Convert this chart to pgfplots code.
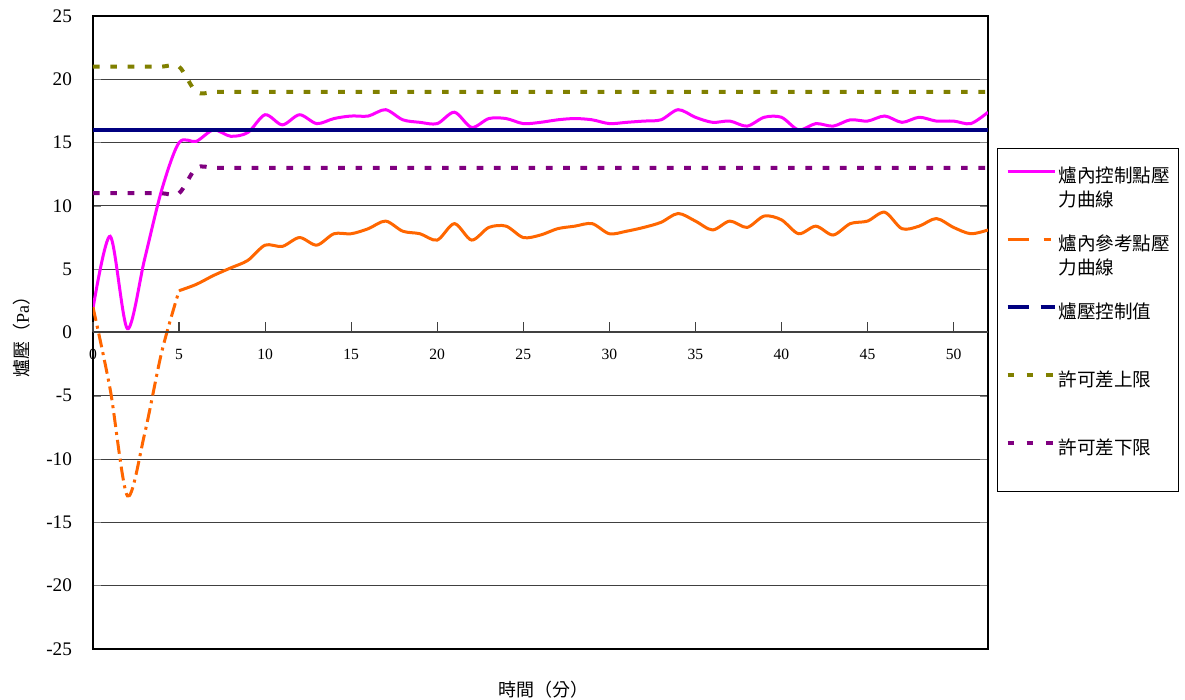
\documentclass[border=0pt]{standalone}
\usepackage{fontspec}
\setmainfont{Liberation Serif}
\newfontfamily\cjk{Noto Sans CJK TC}
\usepackage{pgfplots}
\usepackage{pgfplotstable}
\pgfplotsset{compat=1.18}
\definecolor{cPink}{HTML}{FF00FF}
\definecolor{cOrange}{HTML}{FF6600}
\definecolor{cNavy}{HTML}{000080}
\definecolor{cOlive}{HTML}{808000}
\definecolor{cPurple}{HTML}{800080}

\pgfplotstableread{
x y
0 1.9
1 7.6
2 0.3
3 5.8
4 11.3
5 15.0
6 15.1
7 16.0
8 15.5
9 15.8
10 17.2
11 16.4
12 17.2
13 16.5
14 16.9
15 17.1
16 17.1
17 17.6
18 16.8
19 16.6
20 16.5
21 17.4
22 16.2
23 16.9
24 16.9
25 16.5
26 16.6
27 16.8
28 16.9
29 16.8
30 16.5
31 16.6
32 16.7
33 16.8
34 17.6
35 17.0
36 16.6
37 16.7
38 16.3
39 17.0
40 17.0
41 16.0
42 16.5
43 16.3
44 16.8
45 16.7
46 17.1
47 16.6
48 17.0
49 16.7
50 16.7
51 16.5
52 17.4
}\pinkdata

\pgfplotstableread{
x y
0 2.0
1 -4.5
2 -12.9
3 -8.0
4 -1.5
5 3.3
}\orangeA

\pgfplotstableread{
x y
5 3.3
6 3.8
7 4.5
8 5.1
9 5.7
10 6.9
11 6.8
12 7.5
13 6.9
14 7.8
15 7.8
16 8.2
17 8.8
18 8.0
19 7.8
20 7.3
21 8.6
22 7.3
23 8.3
24 8.4
25 7.5
26 7.7
27 8.2
28 8.4
29 8.6
30 7.8
31 8.0
32 8.3
33 8.7
34 9.4
35 8.8
36 8.1
37 8.8
38 8.3
39 9.2
40 8.9
41 7.8
42 8.4
43 7.7
44 8.6
45 8.8
46 9.5
47 8.2
48 8.4
49 9.0
50 8.3
51 7.8
52 8.1
}\orangeB

\pgfplotstableread{
x up lo
0 21 11
1 21 11
2 21 11
3 21 11
4 21 11
5 21 11
6 19 13
7 19 13
8 19 13
9 19 13
10 19 13
11 19 13
12 19 13
13 19 13
14 19 13
15 19 13
16 19 13
17 19 13
18 19 13
19 19 13
20 19 13
21 19 13
22 19 13
23 19 13
24 19 13
25 19 13
26 19 13
27 19 13
28 19 13
29 19 13
30 19 13
31 19 13
32 19 13
33 19 13
34 19 13
35 19 13
36 19 13
37 19 13
38 19 13
39 19 13
40 19 13
41 19 13
42 19 13
43 19 13
44 19 13
45 19 13
46 19 13
47 19 13
48 19 13
49 19 13
50 19 13
51 19 13
52 19 13
}\limitdata

\begin{document}
\begin{tikzpicture}
\useasboundingbox (-46.5pt,-25.5pt) rectangle (546pt,324.5pt);
\begin{axis}[
  at={(0,0)}, anchor=south west,
  scale only axis, width=447.5pt, height=316.5pt,
  xmin=0, xmax=52, ymin=-25, ymax=25,
  xtick=\empty,
  ytick={-25,-20,...,25},
  ymajorgrids,
  grid style={black!75, line width=0.5pt},
  axis line style={line width=0.8pt},
  tick align=inside, major tick length=4pt,
  /pgf/number format/assume math mode=true,
  yticklabel style={font=\fontsize{9.6}{11}\selectfont, xshift=-7pt},
  ylabel={{\cjk 爐壓（}Pa{\cjk ）}},
  ylabel style={at={(axis description cs:-0.0793,0.5)}, anchor=center, font=\fontsize{9}{11}\selectfont},
  xlabel={\cjk 時間（分）},
  xlabel style={at={(axis description cs:0.503,-0.0648)}, anchor=center, font=\fontsize{9}{11}\selectfont},
  legend cell align=left,
  legend image code/.code={\draw[#1] (0pt,6.5pt) -- (23.5pt,6.5pt);},
  legend style={at={(axis description cs:1.01,0.7915)}, anchor=north west,
    draw=black, line width=0.6pt, inner xsep=4pt, inner ysep=0.75pt,
    column sep=1pt, row sep=0pt,
    nodes={inner sep=0pt, text height=16pt, text depth=18pt},
    font=\cjk\fontsize{9.3}{12}\selectfont},
]
\addplot[cPink, line width=1.5pt, smooth, forget plot] table {\pinkdata};
\addplot[cOrange, line width=1.5pt, smooth, dash pattern=on 7pt off 2.5pt on 1.5pt off 2.5pt, forget plot] table {\orangeA};
\addplot[cOrange, line width=1.5pt, smooth, forget plot] table {\orangeB};
\addplot[cNavy, line width=2pt, forget plot] coordinates {(0,16) (52,16)};
\addplot[cOlive, line width=2pt, smooth, dash pattern=on 3.35pt off 5.3pt, forget plot] table[y=up] {\limitdata};
\addplot[cPurple, line width=2pt, smooth, dash pattern=on 3.35pt off 5.3pt, forget plot] table[y=lo] {\limitdata};

\addlegendimage{cPink, line width=1.5pt}
\addlegendentry{\parbox[t]{56pt}{爐內控制點壓\newline 力曲線}}
\addlegendimage{cOrange, line width=1.5pt, dash pattern=on 10.5pt off 7.5pt on 3.5pt off 3pt}
\addlegendentry{\parbox[t]{56pt}{爐內參考點壓\newline 力曲線}}
\addlegendimage{cNavy, line width=2pt, dash pattern=on 10.5pt off 6pt}
\addlegendentry{\parbox[t]{56pt}{爐壓控制值}}
\addlegendimage{cOlive, line width=2pt, dash pattern=on 3.3pt off 6.3pt}
\addlegendentry{\parbox[t]{56pt}{許可差上限}}
\addlegendimage{cPurple, line width=2pt, dash pattern=on 3.3pt off 6.3pt}
\addlegendentry{\parbox[t]{56pt}{許可差下限}}
\end{axis}
\begin{axis}[
  at={(0,0)}, anchor=south west,
  scale only axis, width=447.5pt, height=316.5pt,
  xmin=0, xmax=52, ymin=-25, ymax=25,
  axis x line=middle, axis y line=none,
  x axis line style={-, line width=1pt, black!75},
  xtick={0,5,...,50}, ytick=\empty,
  hide obscured x ticks=false,
  tick align=inside, major tick length=5pt,
  xtick style={black!75, line width=0.6pt},
  /pgf/number format/assume math mode=true,
  xticklabel style={font=\fontsize{7.8}{9}\selectfont, yshift=-5pt},
]
\end{axis}
\end{tikzpicture}
\end{document}
